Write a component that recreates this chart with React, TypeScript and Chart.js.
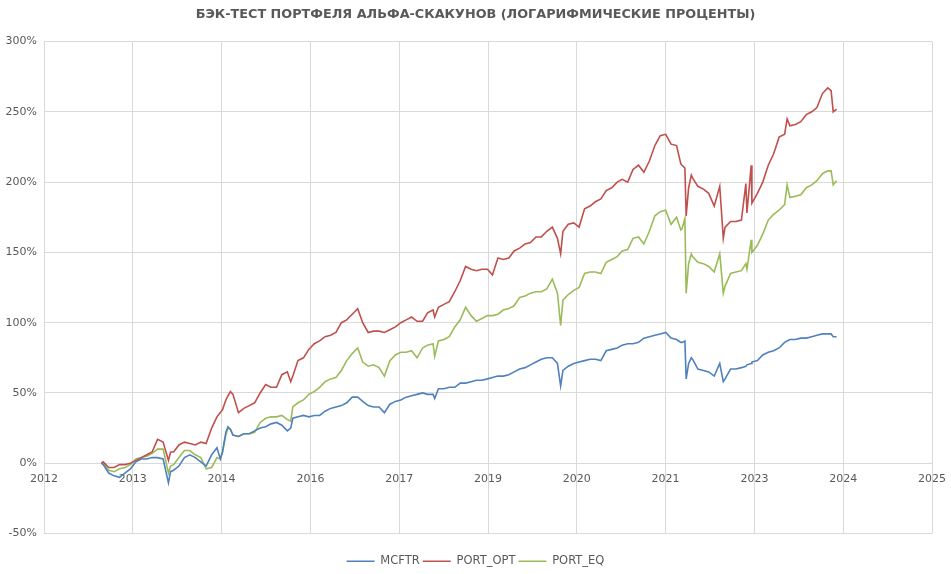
import React, { useEffect, useRef } from 'react';
import { Chart, registerables } from 'chart.js';

Chart.register(...registerables);

const TITLE = 'БЭК-ТЕСТ ПОРТФЕЛЯ АЛЬФА-СКАКУНОВ (ЛОГАРИФМИЧЕСКИЕ ПРОЦЕНТЫ)';
const seriesNames = ['MCFTR', 'PORT_OPT', 'PORT_EQ'];
const seriesColors = ['#4F81BD', '#C0504D', '#9BBB59'];

// x-axis: Excel-like date axis, 500-day major unit starting 2012-04-01
const xTickLabels = ['2012', '2013', '2014', '2016', '2017', '2019', '2020', '2021', '2023', '2024', '2025'];
const X_START = '2012-04-01';
const X_STEP_DAYS = 500;

const yTickValues = [-50, 0, 50, 100, 150, 200, 250, 300];

const dates = [
  '2013-02-18', '2013-03-01', '2013-04-01', '2013-05-01', '2013-06-01', '2013-07-01', '2013-08-01', '2013-09-01', '2013-10-01', '2013-11-01', '2013-12-01',
  '2014-01-01', '2014-02-01', '2014-03-03', '2014-03-15', '2014-04-01', '2014-05-01', '2014-06-01', '2014-07-01', '2014-08-01', '2014-09-01', '2014-10-01', '2014-11-01', '2014-12-01', '2014-12-20',
  '2015-01-01', '2015-01-20', '2015-02-01', '2015-02-15', '2015-03-01', '2015-04-01', '2015-05-01', '2015-06-01', '2015-07-01', '2015-08-01', '2015-09-01', '2015-10-01', '2015-11-01', '2015-12-01',
  '2016-01-01', '2016-01-20', '2016-02-01', '2016-03-01', '2016-04-01', '2016-05-01', '2016-06-01', '2016-07-01', '2016-08-01', '2016-09-01', '2016-10-01', '2016-11-01', '2016-12-01',
  '2017-01-01', '2017-02-01', '2017-03-01', '2017-04-01', '2017-05-01', '2017-06-01', '2017-07-01', '2017-08-01', '2017-09-01', '2017-10-01', '2017-11-01', '2017-12-01',
  '2018-01-01', '2018-02-01', '2018-03-01', '2018-04-01', '2018-04-10', '2018-05-01', '2018-06-01', '2018-07-01', '2018-08-01', '2018-09-01', '2018-10-01', '2018-11-01', '2018-12-01',
  '2019-01-01', '2019-02-01', '2019-03-01', '2019-04-01', '2019-05-01', '2019-06-01', '2019-07-01', '2019-08-01', '2019-09-01', '2019-10-01', '2019-11-01', '2019-12-01',
  '2020-01-01', '2020-02-01', '2020-03-01', '2020-03-19', '2020-04-01', '2020-05-01', '2020-06-01', '2020-07-01', '2020-08-01', '2020-09-01', '2020-10-01', '2020-11-01', '2020-12-01',
  '2021-01-01', '2021-02-01', '2021-03-01', '2021-04-01', '2021-05-01', '2021-06-01', '2021-07-01', '2021-08-01', '2021-09-01', '2021-10-01', '2021-11-01', '2021-12-01',
  '2022-01-01', '2022-01-25', '2022-02-01', '2022-02-17', '2022-02-24', '2022-03-10', '2022-03-25', '2022-04-01', '2022-05-01', '2022-06-01', '2022-07-01', '2022-08-01', '2022-09-01', '2022-09-21', '2022-10-01', '2022-11-01', '2022-12-01',
  '2023-01-01', '2023-01-26', '2023-02-01', '2023-02-25', '2023-03-01', '2023-04-01', '2023-05-01', '2023-06-01', '2023-07-01', '2023-08-01', '2023-09-01', '2023-09-15', '2023-10-01', '2023-11-01', '2023-12-01',
  '2024-01-01', '2024-02-01', '2024-03-01', '2024-04-01', '2024-05-01', '2024-05-20', '2024-06-01', '2024-06-20',
];

const mcftr = [
  0, -1, -7, -9, -10, -7, -4, 1, 3, 3, 4,
  4, 3, -14, -6, -5, -2, 4, 6, 4, 1, -2, 6, 11, 3,
  8, 22, 26, 24, 20, 19, 21, 21, 23, 25, 26, 28, 29, 27,
  23, 25, 32, 33, 34, 33, 34, 34, 37, 39, 40, 41, 43,
  47, 47, 44, 41, 40, 40, 36, 42, 44, 45, 47, 48,
  49, 50, 49, 49, 46, 53, 53, 54, 54, 57, 57, 58, 59,
  59, 60, 61, 62, 62, 63, 65, 67, 68, 70, 72, 74,
  75, 75, 71, 55, 66, 69, 71, 72, 73, 74, 74, 73, 80,
  81, 82, 84, 85, 85, 86, 89, 90, 91, 92, 93, 89,
  88, 86, 86, 87, 60, 71, 75, 74, 67, 66, 65, 62, 71, 58, 60, 67, 67,
  68, 69, 70, 71, 72, 73, 77, 79, 80, 82, 86, 87, 88, 88, 89,
  89, 90, 91, 92, 92, 92, 90, 90,
];

const portOpt = [
  0, 1, -3, -3, -1, -1, 0, 2, 4, 6, 8,
  17, 15, 2, 8, 8, 13, 15, 14, 13, 15, 14, 25, 33, 36,
  38, 45, 48, 51, 49, 36, 39, 41, 43, 50, 56, 54, 54, 63,
  65, 58, 62, 73, 75, 81, 85, 87, 90, 91, 93, 100, 102,
  106, 110, 100, 93, 94, 94, 93, 95, 97, 100, 102, 104,
  101, 101, 107, 109, 104, 111, 113, 115, 122, 130, 140, 138, 137,
  138, 138, 134, 146, 145, 146, 151, 153, 156, 157, 161, 161,
  165, 168, 160, 149, 165, 170, 171, 168, 181, 183, 186, 188, 194,
  196, 200, 202, 200, 209, 212, 207, 215, 226, 233, 234, 227,
  226, 213, 212, 210, 176, 196, 205, 203, 197, 195, 192, 183, 197, 160, 168, 172, 172,
  173, 199, 178, 212, 185, 192, 200, 212, 220, 232, 234, 245, 240, 241, 243,
  248, 250, 253, 263, 267, 265, 250, 252,
];

const portEq = [
  0, 0, -5, -6, -4, -3, -1, 3, 4, 5, 7,
  10, 10, -7, -2, -1, 4, 9, 9, 6, 4, -4, -3, 4, 3,
  8, 20, 25, 24, 20, 19, 21, 21, 22, 29, 32, 33, 33, 34,
  31, 30, 40, 43, 45, 49, 51, 54, 58, 60, 61, 66, 73,
  78, 82, 72, 69, 70, 68, 62, 73, 77, 79, 79, 80,
  75, 82, 84, 85, 76, 87, 88, 90, 97, 102, 111, 105, 101,
  103, 105, 105, 106, 109, 110, 112, 118, 119, 121, 122, 122,
  124, 131, 121, 98, 116, 120, 123, 125, 135, 136, 136, 135, 143,
  145, 147, 151, 152, 160, 161, 156, 165, 176, 179, 180, 170,
  175, 166, 167, 174, 121, 142, 149, 147, 143, 142, 140, 136, 149, 121, 126, 135, 136,
  137, 142, 138, 159, 150, 155, 163, 173, 177, 180, 184, 198, 189, 190, 191,
  196, 198, 201, 206, 208, 208, 198, 201,
];

function toYear(s: string): number {
  const parts = s.split('-').map(Number);
  const y = parts[0];
  const start = Date.UTC(y, 0, 1);
  const end = Date.UTC(y + 1, 0, 1);
  const t = Date.UTC(y, parts[1] - 1, parts[2] || 1);
  return y + (t - start) / (end - start);
}

const X_MIN = toYear(X_START);
const X_STEP = X_STEP_DAYS / 365.25;
const X_MAX = X_MIN + X_STEP * (xTickLabels.length - 1);

const FONT = 'DejaVu Sans';
const TEXT = '#595959';
const GRID = '#D9D9D9';

export default function App() {
  const ref = useRef<HTMLCanvasElement | null>(null);

  useEffect(() => {
    if (!ref.current) return;
    const xs = dates.map(toYear);
    const values = [mcftr, portOpt, portEq];
    const chart = new Chart(ref.current, {
      type: 'line',
      data: {
        datasets: seriesNames.map((name, i) => ({
          label: name,
          data: xs.map((x, j) => ({ x, y: values[i][j] })),
          xAxisID: 'x',
          yAxisID: 'y',
          borderColor: seriesColors[i],
          backgroundColor: seriesColors[i],
          borderWidth: 1.6,
          pointRadius: 0,
          pointStyle: 'line',
          tension: 0,
          fill: false,
        })),
      },
      options: {
        responsive: false,
        animation: false,
        layout: { padding: { left: 0, right: 0, top: 0, bottom: -3 } },
        plugins: {
          tooltip: { enabled: false },
          title: {
            display: true,
            text: TITLE,
            color: TEXT,
            font: { family: FONT, size: 12.8, weight: 'bold' },
            padding: { top: 6.8, bottom: 19.4 },
          },
          legend: {
            position: 'bottom',
            labels: {
              usePointStyle: true,
              pointStyleWidth: 28,
              color: TEXT,
              font: { family: FONT, size: 11.5 },
              padding: 3,
            },
          },
        },
        scales: {
          x: {
            type: 'linear',
            position: { y: 0 },
            min: X_MIN,
            max: X_MAX,
            afterBuildTicks: (scale: any) => {
              scale.ticks = xTickLabels.map((_, i) => ({ value: X_MIN + i * X_STEP }));
            },
            afterFit: (scale: any) => {
              scale.paddingLeft = 0;
              scale.paddingRight = 0;
            },
            ticks: {
              autoSkip: false,
              maxRotation: 0,
              color: TEXT,
              font: { family: FONT, size: 11 },
              padding: 9,
              callback: (_v: any, i: number) => xTickLabels[i],
            },
            grid: { color: GRID, lineWidth: 1, drawTicks: false },
            border: { display: false },
          },
          xPad: {
            type: 'linear',
            axis: 'x',
            position: 'bottom',
            display: true,
            ticks: { display: false },
            grid: { display: false, drawTicks: false },
            border: { display: false },
            afterFit: (scale: any) => {
              scale.height = 19;
              scale.paddingLeft = 0;
              scale.paddingRight = 0;
            },
          },
          y: {
            type: 'linear',
            position: 'left',
            min: yTickValues[0],
            max: yTickValues[yTickValues.length - 1],
            afterBuildTicks: (scale: any) => {
              scale.ticks = yTickValues.map((v) => ({ value: v }));
            },
            afterFit: (scale: any) => {
              scale.width = 44;
            },
            ticks: {
              color: TEXT,
              font: { family: FONT, size: 11 },
              padding: 7,
              callback: (v: any) => `${v}%`,
            },
            grid: { color: GRID, lineWidth: 1, drawTicks: false },
            border: { display: false },
          },
          yPad: {
            type: 'linear',
            axis: 'y',
            position: 'right',
            display: true,
            ticks: { display: false },
            grid: { display: false, drawTicks: false },
            border: { display: false },
            afterFit: (scale: any) => {
              scale.width = 19;
            },
          },
        },
      },
    } as any);
    return () => chart.destroy();
  }, []);

  return (
    <div style={{ position: 'fixed', left: 0, top: 0, width: 951, height: 574, background: '#fff' }}>
      <canvas ref={ref} width={951} height={574} />
    </div>
  );
}
